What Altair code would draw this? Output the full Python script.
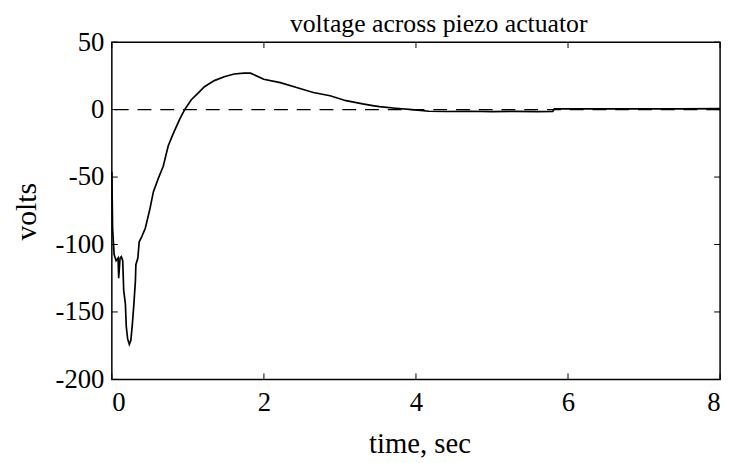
import altair as alt
import pandas as pd

# time (s) and voltage (V)
t_vals = [0.0, 0.01, 0.03, 0.056, 0.082, 0.09, 0.108, 0.125, 0.143, 0.156, 0.178, 0.19,
          0.208, 0.23, 0.25, 0.27, 0.29, 0.31, 0.316, 0.342, 0.36, 0.395, 0.44, 0.503,
          0.546, 0.611, 0.676, 0.741, 0.806, 0.893, 0.958, 1.045, 1.131, 1.218, 1.348,
          1.478, 1.608, 1.738, 1.825, 1.998, 2.215, 2.43, 2.65, 2.87, 3.08, 3.30, 3.43,
          3.52, 3.73, 3.95, 4.17, 4.4, 4.7, 5.0, 5.3, 5.6, 5.8, 5.82, 6.3, 7.0, 7.5, 8.0]
v_vals = [-46, -88, -107.5, -112, -110, -125, -110, -109, -112, -134, -144, -161,
          -170, -174, -171, -159, -144, -127, -115, -110, -98, -94, -88, -73,
          -61, -51, -42, -27, -18, -7, 0, 7.3, 12, 17, 21.5,
          24.4, 26.4, 27, 27, 22.5, 20, 16.4, 12.7, 10.3, 6.6, 4.2, 3,
          2.2, 1.0, 0.0, -1.2, -1.4, -1.2, -1.5, -1.3, -1.5, -1.4, 0.5, 0.5, 0.6, 0.6, 0.7]

x_ticks = [0, 2, 4, 6, 8]
y_ticks = [-200, -150, -100, -50, 0, 50]
zero_level = [0]

W, H = 615, 341
FONT = "Liberation Serif"

df = pd.DataFrame({"t": t_vals, "v": v_vals})
xs = alt.Scale(domain=[0, 8], nice=False)
ys = alt.Scale(domain=[-200, 50], nice=False)

line = alt.Chart(df).mark_line(color="black", strokeWidth=1.7).encode(
    x=alt.X("t:Q", scale=xs, title="time, sec",
            axis=alt.Axis(values=x_ticks, labelExpr="toString(datum.value)",
                          titleX=311, titleY=74, titleFontSize=29,
                          titleBaseline="alphabetic", titleAlign="center")),
    y=alt.Y("v:Q", scale=ys, title="volts",
            axis=alt.Axis(values=y_ticks, labelExpr="toString(datum.value)",
                          titleX=-86, titleY=171, titleFontSize=30,
                          titleAngle=270, titleBaseline="middle", titleAlign="center")),
)

zero = alt.Chart(pd.DataFrame({"z": zero_level})).mark_rule(
    color="black", strokeDash=[14, 9], strokeWidth=1.2
).encode(y=alt.Y("z:Q", scale=ys))

ytk = pd.DataFrame({"y": y_ticks})
xtk = pd.DataFrame({"x": x_ticks})
tl = 6
left_t = alt.Chart(ytk).mark_rule(color="black", strokeWidth=1).encode(
    y=alt.Y("y:Q", scale=ys), x=alt.value(0), x2=alt.value(tl))
right_t = alt.Chart(ytk).mark_rule(color="black", strokeWidth=1).encode(
    y=alt.Y("y:Q", scale=ys), x=alt.value(W - tl), x2=alt.value(W))
bot_t = alt.Chart(xtk).mark_rule(color="black", strokeWidth=1).encode(
    x=alt.X("x:Q", scale=xs), y=alt.value(H - tl), y2=alt.value(H))
top_t = alt.Chart(xtk).mark_rule(color="black", strokeWidth=1).encode(
    x=alt.X("x:Q", scale=xs), y=alt.value(0), y2=alt.value(tl))

chart = alt.layer(zero, line, left_t, right_t, bot_t, top_t).properties(
    width=W, height=H,
    title=alt.TitleParams("voltage across piezo actuator", font=FONT, fontSize=26,
                          fontWeight="normal", color="black", anchor="middle",
                          frame="group", baseline="alphabetic", offset=1, dx=23, dy=31),
    autosize=alt.AutoSizeParams(type="none"),
    padding={"left": 105, "top": 32, "right": 8, "bottom": 82},
).configure(
    background="white"
).configure_view(
    stroke="black", strokeWidth=1.5
).configure_axis(
    domain=False, ticks=False, grid=False,
    labelFont=FONT, labelFontSize=27, labelColor="black",
    titleFont=FONT, titleFontWeight="normal", titleColor="black",
).configure_axisY(
    labelPadding=8, labelBaseline="middle"
).configure_axisX(
    labelPadding=10
)

chart.save("out.html", embed_options={"renderer": "svg", "actions": False})
